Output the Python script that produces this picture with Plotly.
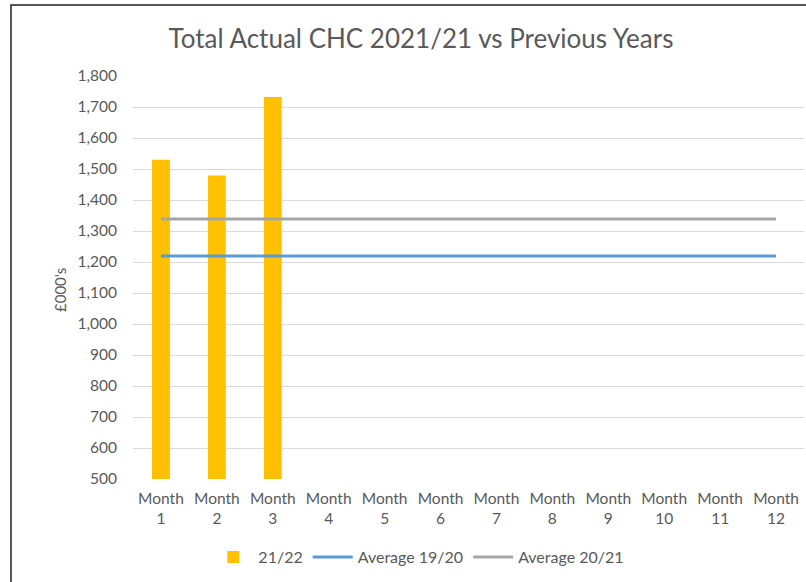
import plotly.graph_objects as go

# Monthly CHC spend (£000's)
months = [f"Month<br>{m}" for m in range(1, 13)]
actual_2122 = [1530, 1479, 1732]
avg_1920 = [1219] * 12
avg_2021 = [1339] * 12

y_ticks = list(range(500, 1801, 100))
y_tick_text = [f"{v:,}" for v in y_ticks]

text_color = "#595959"
font_family = "Lato, 'Open Sans', sans-serif"

fig = go.Figure()
fig.add_trace(go.Bar(
    x=months[:len(actual_2122)], y=actual_2122, name="21/22",
    marker=dict(color="#FFC000", line=dict(width=0)),
    width=0.32,
))
fig.add_trace(go.Scatter(
    x=months, y=avg_1920, name="Average 19/20", mode="lines",
    line=dict(color="#5B9BD5", width=3),
))
fig.add_trace(go.Scatter(
    x=months, y=avg_2021, name="Average 20/21", mode="lines",
    line=dict(color="#A5A5A5", width=3),
))

fig.update_layout(
    width=806, height=582,
    margin=dict(l=133, r=2, t=76, b=103),
    paper_bgcolor="white", plot_bgcolor="white",
    font=dict(family=font_family, color=text_color, size=15),
    title=dict(
        text="Total Actual CHC 2021/21 vs Previous Years",
        x=421 / 806, xanchor="center", xref="container",
        y=1 - 39 / 582, yanchor="middle", yref="container",
        font=dict(size=26, color=text_color, family=font_family),
    ),
    xaxis=dict(
        type="category", categoryorder="array", categoryarray=months,
        range=[-0.5, 11.5], showgrid=False, showline=False, zeroline=False,
        ticks="", ticklabelstandoff=8,
        tickfont=dict(size=15.5, color=text_color),
    ),
    yaxis=dict(
        range=[500, 1800], tickvals=y_ticks, ticktext=y_tick_text,
        showgrid=True, gridcolor="#D9D9D9", gridwidth=1,
        showline=False, zeroline=False, ticks="",
        ticklabelstandoff=15,
        tickfont=dict(size=15.5, color=text_color),
    ),
    showlegend=True,
    legend=dict(
        orientation="h", x=0.426, xanchor="center",
        y=-0.1935, yanchor="middle",
        font=dict(size=16, color=text_color),
        traceorder="normal", itemwidth=40,
    ),
    annotations=[dict(
        text="£000's", xref="paper", yref="paper",
        x=(60 - 133) / 671, y=(479 - 290) / 403,
        textangle=-90, showarrow=False,
        font=dict(size=15, color=text_color),
        xanchor="center", yanchor="middle",
    )],
    shapes=[dict(
        type="rect", xref="paper", yref="paper",
        x0=(11 - 133) / 671, x1=(1000 - 133) / 671,
        y0=(479 - 900) / 403, y1=(479 - 5) / 403,
        line=dict(color="#222222", width=1.5),
        fillcolor="rgba(0,0,0,0)", layer="below",
    )],
)

fig.write_html("out.html")
